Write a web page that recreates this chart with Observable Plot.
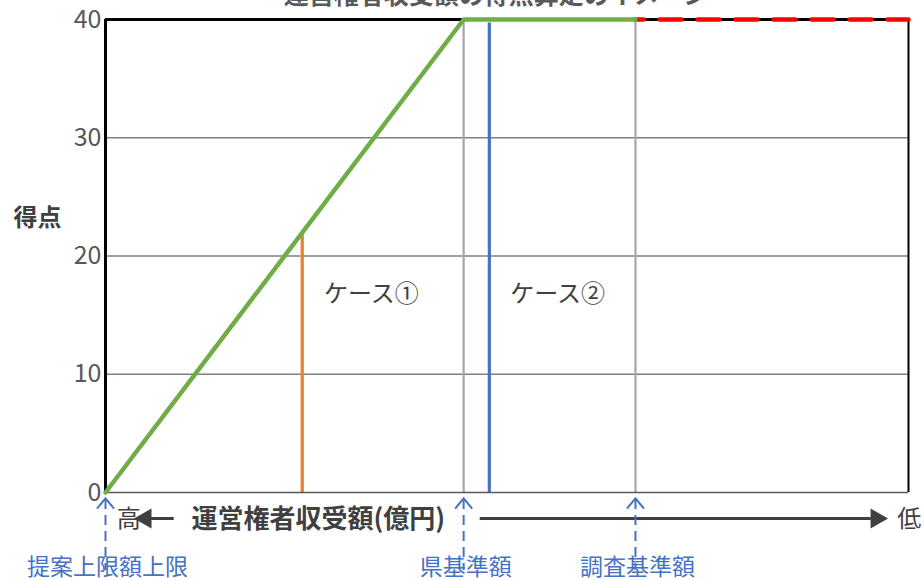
<!DOCTYPE html>
<html><head><meta charset="utf-8">
<script src="https://cdn.jsdelivr.net/npm/d3@7"></script>
<script src="https://cdn.jsdelivr.net/npm/@observablehq/plot@0.6"></script>
<style>
body{margin:0;background:#fff;font-family:"Noto Sans CJK JP","Noto Sans",sans-serif;}
#chart{position:relative;width:924px;height:580px;overflow:hidden;}
</style></head><body><div id="chart"></div>
<script>
// ---- data ----
const scoreLine = [ {x:0, y:0}, {x:44.6, y:40}, {x:66.0, y:40} ];   // green scoring line
const extension = [ {x:66.0, y:40}, {x:100, y:40} ];               // red dashed extension
const refLines = [ {x:44.6, label:"県基準額"}, {x:66.0, label:"調査基準額"} ];
const bottomRefs = [ {x:0, label:"提案上限額上限"}, {x:44.6, label:"県基準額"}, {x:66.0, label:"調査基準額"} ];
const cases = [
  {x:24.5, top:21.8, color:"#ED7D31", label:"ケース①", lx:33.1},
  {x:47.8, top:39.7, color:"#4472C4", label:"ケース②", lx:56.3}
];
const yTicks = [0, 10, 20, 30, 40];
const gridTicks = [10, 20, 30];
const title = "運営権者収受額の得点算定のイメージ";
const xTitle = "運営権者収受額(億円)";
const yTitle = "得点";

const TXT = "#404040";
const BLUE = "#4472C4";
const F = "'Noto Sans CJK JP','Noto Sans',sans-serif";

// open chevron symbol pointing up, tip at the origin
const chevron = {
  draw(ctx, size) {
    const s = Math.sqrt(size);
    ctx.moveTo(-0.6 * s, 0.72 * s);
    ctx.lineTo(0, 0);
    ctx.lineTo(0.6 * s, 0.72 * s);
  }
};

const chart = Plot.plot({
  width: 924, height: 580,
  marginLeft: 105, marginRight: 16, marginTop: 19, marginBottom: 88,
  style: {fontFamily: F, background: "#fff", color: TXT, overflow: "hidden"},
  x: {domain: [0, 100], axis: null},
  y: {domain: [0, 40], axis: null},
  marks: [
    Plot.ruleY(gridTicks, {stroke: "#7f7f7f", strokeWidth: 1.3}),
    Plot.ruleX(refLines, {x: "x", y1: 0, y2: 40, stroke: "#a6a6a6", strokeWidth: 2.2}),
    Plot.ruleX(cases, {x: "x", y1: 0, y2: "top", stroke: "color", strokeWidth: 3.2}),
    Plot.ruleY([0], {stroke: "#595959", strokeWidth: 1.6}),
    Plot.ruleY([40], {stroke: "#000", strokeWidth: 3}),
    Plot.ruleX([0], {y1: 0, y2: 40, stroke: "#000", strokeWidth: 3}),
    Plot.ruleX([100], {y1: 0, y2: 40, stroke: "#000", strokeWidth: 2}),
    Plot.line(extension, {x: "x", y: "y", stroke: "#ff0000", strokeWidth: 4.5, strokeDasharray: "22,16", strokeDashoffset: 14}),
    Plot.line(scoreLine, {x: "x", y: "y", stroke: "#70AD47", strokeWidth: 4.5, strokeLinejoin: "miter"}),
    Plot.text(cases, {x: "lx", y: 16.8, text: "label", fontSize: 24, fill: TXT}),
    // y axis labels
    Plot.axisY(yTicks, {tickSize: 0, tickPadding: 4, fontSize: 25, fill: "#595959", anchor: "left", label: null}),
    Plot.text([yTitle], {frameAnchor: "left", y: 23.2, dx: -68, text: d => d, fontSize: 24, fontWeight: "bold", fill: TXT, textAnchor: "middle"}),
    // title (clipped at top as in the original)
    Plot.text([title], {frameAnchor: "top", dy: -33, dx: -11, text: d => d, fontSize: 25, fontWeight: "bold", fill: "#595959", lineAnchor: "top"}),
    // horizontal direction arrow
    Plot.link([{x1: 8.5, x2: 5.4}, {x1: 46.6, x2: 95.3}], {x1: "x1", x2: "x2", y1: -2.2, y2: -2.2, stroke: "#404040", strokeWidth: 3}),
    Plot.dot([{x: 5.0, r: -90}, {x: 96.0, r: 90}], {x: "x", y: -2.2, symbol: "triangle", r: 7.5, rotate: "r", fill: "#404040", stroke: "none"}),
    Plot.text(["高"], {x: 2.9, y: -2.3, text: d => d, fontSize: 24, fill: TXT}),
    Plot.text(["低"], {x: 100.1, y: -2.3, text: d => d, fontSize: 24, fill: TXT}),
    Plot.text([xTitle], {x: 26.5, y: -2.3, text: d => d, fontSize: 26, fontWeight: "bold", fill: TXT}),
    // blue dashed reference arrows
    Plot.ruleX(bottomRefs, {x: "x", y1: -0.6, y2: -6.6, stroke: BLUE, strokeWidth: 2, strokeDasharray: "10,6"}),
    Plot.dot(bottomRefs, {x: "x", y: -0.5, symbol: chevron, r: 8, fill: "none", stroke: BLUE, strokeWidth: 2}),
    Plot.text(bottomRefs, {x: "x", y: -6.35, text: "label", fontSize: 23, fill: BLUE, dx: 2})
  ]
});
document.getElementById("chart").appendChild(chart);
</script></body></html>
